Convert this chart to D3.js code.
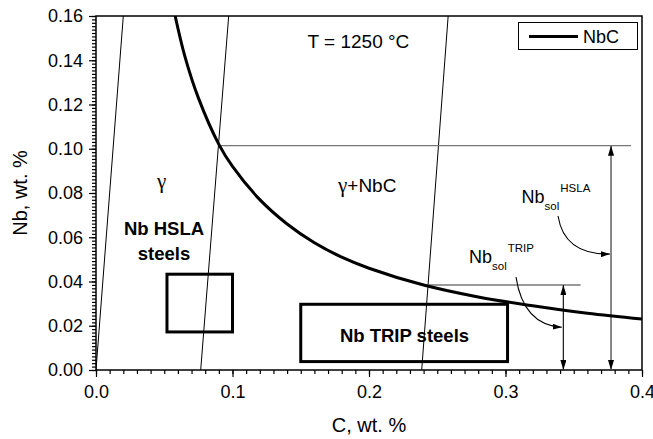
<!DOCTYPE html>
<html>
<head>
<meta charset="utf-8">
<script src="https://cdn.jsdelivr.net/npm/d3@7"></script>
<style>
  html, body { margin: 0; padding: 0; background: #fff; }
  svg { display: block; font-family: "Liberation Sans", Arial, sans-serif; }
</style>
</head>
<body>
<svg id="chart" width="653" height="439"></svg>
<script>
// Axis ticks
const xTicks = [0, 0.1, 0.2, 0.3, 0.4];
const yTicks = [0, 0.02, 0.04, 0.06, 0.08, 0.10, 0.12, 0.14, 0.16];

// NbC solubility limit at 1250 °C
const curveC  = [0.058, 0.065, 0.075, 0.090, 0.100, 0.120, 0.140, 0.160, 0.180, 0.200, 0.240, 0.280, 0.320, 0.360, 0.400];
const curveNb = [0.160, 0.142, 0.123, 0.102, 0.092, 0.077, 0.066, 0.0575, 0.051, 0.046, 0.0384, 0.033, 0.029, 0.0256, 0.023];

// Stoichiometric Nb/C lines (C at Nb = 0 and at Nb = 0.16)
const stoichNb = [0, 0.16];
const stoich1C = [0, 0.020];
const stoich2C = [0.0767, 0.0972];
const stoich3C = [0.2386, 0.258];

// Composition windows
const hslaBoxC  = [0.052, 0.100];
const hslaBoxNb = [0.0172, 0.0433];
const tripBoxC  = [0.150, 0.3015];
const tripBoxNb = [0.0038, 0.0297];

// Dissolved Nb levels
const hslaSolNb = 0.1014, hslaSolC = [0.091, 0.392], hslaArrowC = 0.3773;
const tripSolNb = 0.0384, tripSolC = [0.242, 0.355], tripArrowC = 0.3424;

const svg = d3.select("#chart");
const margin = { left: 96, right: 11, top: 16, bottom: 69 };
const W = 653, H = 439;
const x = d3.scaleLinear().domain([0, 0.4]).range([margin.left, W - margin.right]);
const y = d3.scaleLinear().domain([0, 0.16]).range([H - margin.bottom, margin.top]);

const defs = svg.append("defs");
defs.append("clipPath").attr("id", "plot")
  .append("rect").attr("x", x(0)).attr("y", y(0.16))
  .attr("width", x(0.4) - x(0)).attr("height", y(0) - y(0.16));
defs.append("marker").attr("id", "head")
  .attr("viewBox", "0 -3 10 6").attr("refX", 10).attr("refY", 0)
  .attr("markerWidth", 10).attr("markerHeight", 6)
  .attr("markerUnits", "userSpaceOnUse").attr("orient", "auto-start-reverse")
  .append("path").attr("d", "M0,-3L10,0L0,3Z").attr("fill", "#000");
defs.append("marker").attr("id", "headSmall")
  .attr("viewBox", "0 -3 9 6").attr("refX", 9).attr("refY", 0)
  .attr("markerWidth", 9).attr("markerHeight", 6)
  .attr("markerUnits", "userSpaceOnUse").attr("orient", "auto")
  .append("path").attr("d", "M0,-3L9,0L0,3Z").attr("fill", "#000");

// Axes: minor ticks, then major ticks with labels
const minorX = d3.range(0, 0.4001, 0.01);
const minorY = d3.range(0, 0.16001, 0.02 / 13);
svg.append("g").attr("transform", `translate(0,${y(0)})`)
  .call(d3.axisBottom(x).tickValues(minorX).tickSize(4).tickFormat(""))
  .call(g => g.select(".domain").remove());
svg.append("g").attr("transform", `translate(${x(0)},0)`)
  .call(d3.axisLeft(y).tickValues(minorY).tickSize(4).tickFormat(""))
  .call(g => g.select(".domain").remove());
const xAxis = svg.append("g").attr("transform", `translate(0,${y(0)})`)
  .call(d3.axisBottom(x).tickValues(xTicks).tickSize(7).tickPadding(8).tickFormat(d3.format(".1f")));
const yAxis = svg.append("g").attr("transform", `translate(${x(0)},0)`)
  .call(d3.axisLeft(y).tickValues(yTicks).tickSize(7).tickPadding(6).tickFormat(d3.format(".2f")));
[xAxis, yAxis].forEach(g => {
  g.selectAll("text").attr("font-size", 18).attr("fill", "#000")
    .attr("font-family", "Liberation Sans, Arial, sans-serif");
  g.selectAll("line").attr("stroke", "#000").attr("stroke-width", 1.2);
  g.select(".domain").remove();
});
svg.selectAll("g .tick line").attr("stroke", "#000").attr("stroke-width", 1.2);

// Frame
svg.append("rect").attr("x", x(0)).attr("y", y(0.16))
  .attr("width", x(0.4) - x(0)).attr("height", y(0) - y(0.16))
  .attr("fill", "none").attr("stroke", "#000").attr("stroke-width", 1.5);

// Axis titles
svg.append("text").attr("x", (x(0) + x(0.4)) / 2).attr("y", 432)
  .attr("text-anchor", "middle").attr("font-size", 20).text("C, wt. %");
svg.append("text").attr("transform", `translate(27,${(y(0) + y(0.16)) / 2}) rotate(-90)`)
  .attr("text-anchor", "middle").attr("font-size", 20).text("Nb, wt. %");

const plot = svg.append("g").attr("clip-path", "url(#plot)");

// Stoichiometric lines
[stoich1C, stoich2C, stoich3C].forEach(cs => {
  plot.append("line")
    .attr("x1", x(cs[0])).attr("y1", y(stoichNb[0]))
    .attr("x2", x(cs[1])).attr("y2", y(stoichNb[1]))
    .attr("stroke", "#000").attr("stroke-width", 1);
});

// Dissolved Nb levels
[[hslaSolC, hslaSolNb], [tripSolC, tripSolNb]].forEach(([cs, nb]) => {
  plot.append("line").attr("x1", x(cs[0])).attr("x2", x(cs[1]))
    .attr("y1", y(nb)).attr("y2", y(nb))
    .attr("stroke", "#777").attr("stroke-width", 1.4);
});
plot.append("line").attr("x1", x(hslaArrowC)).attr("x2", x(hslaArrowC))
  .attr("y1", y(hslaSolNb)).attr("y2", y(0))
  .attr("stroke", "#555").attr("stroke-width", 1.4)
  .attr("marker-start", "url(#head)").attr("marker-end", "url(#head)");
plot.append("line").attr("x1", x(tripArrowC)).attr("x2", x(tripArrowC))
  .attr("y1", y(tripSolNb)).attr("y2", y(0))
  .attr("stroke", "#222").attr("stroke-width", 1.3)
  .attr("marker-start", "url(#head)").attr("marker-end", "url(#head)");

// Composition windows
[[hslaBoxC, hslaBoxNb], [tripBoxC, tripBoxNb]].forEach(([cs, nbs]) => {
  plot.append("rect").attr("x", x(cs[0])).attr("y", y(nbs[1]))
    .attr("width", x(cs[1]) - x(cs[0])).attr("height", y(nbs[0]) - y(nbs[1]))
    .attr("fill", "none").attr("stroke", "#000").attr("stroke-width", 3);
});

// Solubility curve
const curvePts = curveC.map((c, i) => [c, curveNb[i]]);
plot.append("path").datum(curvePts)
  .attr("d", d3.line().x(d => x(d[0])).y(d => y(d[1])).curve(d3.curveCatmullRom))
  .attr("fill", "none").attr("stroke", "#000").attr("stroke-width", 3);

// Curved pointer arrows
function pointer(p0, pc, p1) {
  const p = d3.path();
  p.moveTo(x(p0[0]), y(p0[1]));
  p.quadraticCurveTo(x(pc[0]), y(pc[1]), x(p1[0]), y(p1[1]));
  svg.append("path").attr("d", p.toString()).attr("fill", "none")
    .attr("stroke", "#000").attr("stroke-width", 1.1).attr("marker-end", "url(#headSmall)");
}
pointer([0.3385, 0.0696], [0.343, 0.052], [0.3765, 0.0524]);
pointer([0.3077, 0.0420], [0.313, 0.0205], [0.3412, 0.0193]);

// Labels
const serif = "Liberation Serif, Times New Roman, serif";
svg.append("text").attr("x", x(0.155)).attr("y", y(0.1457))
  .attr("font-size", 19).text("T = 1250 °C");
svg.append("text").attr("x", x(0.048)).attr("y", y(0.0823)).attr("text-anchor", "middle")
  .attr("font-size", 21).attr("font-family", serif).text("γ");
const gn = svg.append("text").attr("x", x(0.1773)).attr("y", y(0.0806)).attr("font-size", 19);
gn.append("tspan").attr("font-family", serif).attr("font-size", 21).text("γ");
gn.append("tspan").text("+NbC");
svg.append("text").attr("x", x(0.0498)).attr("y", y(0.061)).attr("text-anchor", "middle")
  .attr("font-size", 18.5).attr("font-weight", "bold").text("Nb HSLA");
svg.append("text").attr("x", x(0.0498)).attr("y", y(0.0497)).attr("text-anchor", "middle")
  .attr("font-size", 18.5).attr("font-weight", "bold").text("steels");
svg.append("text").attr("x", x(0.226)).attr("y", y(0.0128)).attr("text-anchor", "middle")
  .attr("font-size", 18.5).attr("font-weight", "bold").text("Nb TRIP steels");

function solLabel(c, nb, sup) {
  const t = svg.append("text").attr("x", x(c)).attr("y", y(nb)).attr("font-size", 18);
  t.append("tspan").text("Nb");
  t.append("tspan").attr("font-size", 11.5).attr("dy", 7).text("sol");
  t.append("tspan").attr("font-size", 11.5).attr("dy", -18).attr("dx", 1).text(sup);
}
solLabel(0.3118, 0.0755, "HSLA");
solLabel(0.2733, 0.0484, "TRIP");

// Legend
const lg = svg.append("g");
lg.append("rect").attr("x", 518.5).attr("y", 22.5).attr("width", 119).attr("height", 27)
  .attr("fill", "#fff").attr("stroke", "#000").attr("stroke-width", 1);
lg.append("line").attr("x1", 529).attr("x2", 578).attr("y1", 36.5).attr("y2", 36.5)
  .attr("stroke", "#000").attr("stroke-width", 3);
lg.append("text").attr("x", 583).attr("y", 42.5).attr("font-size", 18).text("NbC");
</script>
</body>
</html>
